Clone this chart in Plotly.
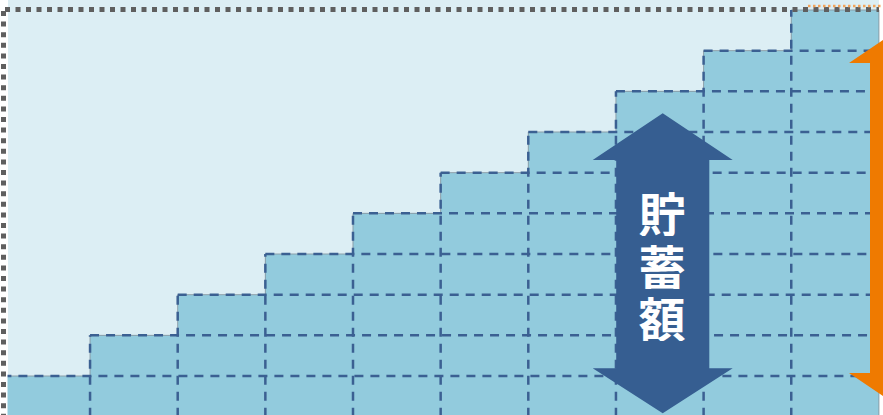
import plotly.graph_objects as go

# ---- data ----
columns = list(range(1, 11))            # 10 savings periods
blocks = [1, 2, 3, 4, 5, 6, 7, 8, 9, 10]  # stacked blocks per period
label_chars = ["貯", "蓄", "額"]

# ---- styles ----
W, H = 883, 415
BG_LIGHT = "#dceef4"
FILL = "#92cbdd"
DASH_COL = "#3b6092"
ARROW_BLUE = "#365e91"
ORANGE = "#ef7a00"
BORDER = "#5f5f5f"

# pixel mapping of the illustration (column unit / block unit)
X0, XW = 2.4, 87.65
Y0, YH = 416.7, 40.67


def px(p):
    return (p - X0) / XW


def py(p):
    return (Y0 - p) / YH


n = len(columns)
fig = go.Figure()

# filled blocks
fig.add_trace(go.Bar(
    x=[i - 0.5 for i in columns], y=blocks, width=1, base=0,
    marker=dict(color=FILL, line=dict(width=0)), hoverinfo="skip",
))

# thin gray outline of the staircase
ox, oy = [], []
for i, h in enumerate(blocks):
    ox += [i, i + 1]
    oy += [h, h]
ox += [n, n]
oy += [blocks[-1], 0]
fig.add_trace(go.Scatter(x=[0] + ox, y=[0] + oy, mode="lines",
                         line=dict(color="#8a9ea8", width=1), hoverinfo="skip"))

# dashed grid inside blocks
gx, gy = [], []
for i, h in enumerate(blocks[:-1]):
    gx += [i, n, None]
    gy += [h, h, None]
for i in range(1, n):
    gx += [i, i, None]
    gy += [0, blocks[i], None]
fig.add_trace(go.Scatter(x=gx, y=gy, mode="lines",
                         line=dict(color=DASH_COL, width=2.5, dash="9px,7px"),
                         hoverinfo="skip"))


def path_from_px(points):
    s = "M " + " L ".join(f"{px(a):.5f},{py(b):.5f}" for a, b in points) + " Z"
    return s


shapes = []
# light background panel
shapes.append(dict(type="rect", xref="x", yref="y", layer="below",
                   x0=px(8), x1=px(879), y0=py(H + 5), y1=py(-5),
                   fillcolor=BG_LIGHT, line=dict(width=0)))
# white strip at the left edge
shapes.append(dict(type="rect", xref="x", yref="y", layer="above",
                   x0=px(-5), x1=px(7.5), y0=py(H + 5), y1=py(-5),
                   fillcolor="white", line=dict(width=0)))
# blue double arrow
cx = 662.7
blue = [(cx, 113.3), (732.7, 160), (709.3, 160), (709.3, 368.3), (732.7, 368.3),
        (cx, 413.3), (592.7, 368.3), (616.2, 368.3), (616.2, 160), (592.7, 160)]
shapes.append(dict(type="path", xref="x", yref="y", layer="above",
                   path=path_from_px(blue), fillcolor=ARROW_BLUE, line=dict(width=0)))
# dotted frame (top and left)
shapes.append(dict(type="line", xref="x", yref="y", layer="above",
                   x0=px(5), x1=px(879), y0=py(9.5), y1=py(9.5),
                   line=dict(color=BORDER, width=5, dash="5px,5.5px")))
shapes.append(dict(type="line", xref="x", yref="y", layer="above",
                   x0=px(3.5), x1=px(3.5), y0=py(11), y1=py(H + 5),
                   line=dict(color=BORDER, width=5, dash="5px,5.6px")))
# orange dotted top line
shapes.append(dict(type="line", xref="x", yref="y", layer="above",
                   x0=px(808), x1=px(885), y0=py(6), y1=py(6),
                   line=dict(color="#f3a45a", width=2.5, dash="2.5px,2.5px")))
# orange double arrow (partly off the right edge)
ocx = 905
orange = [(ocx, 25), (ocx + 56, 63), (ocx + 35, 63), (ocx + 35, 373), (ocx + 56, 373),
          (ocx, 411), (849, 373), (870, 373), (870, 63), (849, 63)]
shapes.append(dict(type="path", xref="x", yref="y", layer="above",
                   path=path_from_px(orange), fillcolor=ORANGE, line=dict(width=0)))

# vertical label: one annotation per character (glyphs themselves do not touch)
annotations = []
for k, ch in enumerate(label_chars):
    annotations.append(dict(
        x=px(661.5), y=py(211 + 52.5 * k), xref="x", yref="y", text=ch,
        showarrow=False, xanchor="center", yanchor="middle",
        width=52, height=50, borderpad=0,
        font=dict(family="Noto Sans CJK JP", size=47, color="white", weight="bold"),
    ))

fig.update_layout(
    width=W, height=H, margin=dict(l=0, r=0, t=0, b=0),
    paper_bgcolor="white", plot_bgcolor="white",
    showlegend=False, bargap=0,
    xaxis=dict(range=[px(0), px(W)], visible=False, fixedrange=True),
    yaxis=dict(range=[py(H), py(0)], visible=False, fixedrange=True),
    shapes=shapes, annotations=annotations,
)

fig.write_html("out.html", config={"displayModeBar": False})
